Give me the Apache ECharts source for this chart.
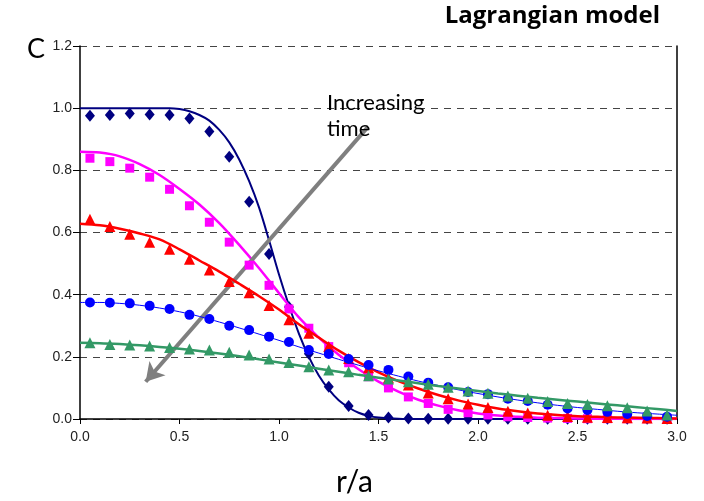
<!DOCTYPE html>
<html><head><meta charset="utf-8">
<script src="https://cdn.jsdelivr.net/npm/echarts@6/dist/echarts.min.js"></script>
<style>html,body{margin:0;padding:0;background:#fff}#c{width:704px;height:501px}</style>
</head><body><div id="c"></div>
<script>
// marker positions (r/a)
const rMarkers = [0.05,0.15,0.25,0.35,0.45,0.55,0.65,0.75,0.85,0.95,1.05,1.15,1.25,1.35,1.45,1.55,1.65,1.75,1.85,1.95,2.05,2.15,2.25,2.35,2.45,2.55,2.65,2.75,2.85,2.95];
// marker values (simulation points)
const navyPts = [0.976,0.978,0.983,0.98,0.978,0.967,0.925,0.844,0.699,0.531,0.36,0.21,0.104,0.042,0.013,0.005,0.002,0.001,0.001,0.001,0.001,0.001,0.001,0.001,0.001,0.001,0.001,0.001,0.001,0.001];
const magentaPts = [0.839,0.828,0.807,0.778,0.739,0.686,0.633,0.569,0.495,0.43,0.354,0.292,0.233,0.181,0.136,0.1,0.071,0.05,0.031,0.02,0.013,0.007,0.005,0.003,0.002,0.001,0.001,0.001,0.001,0.001];
const redPts = [0.643,0.619,0.594,0.569,0.546,0.514,0.479,0.442,0.406,0.365,0.319,0.276,0.233,0.195,0.165,0.133,0.109,0.084,0.065,0.048,0.037,0.025,0.019,0.012,0.008,0.006,0.005,0.004,0.003,0.002];
const bluePts = [0.375,0.374,0.372,0.364,0.354,0.335,0.322,0.3,0.286,0.265,0.248,0.222,0.209,0.193,0.174,0.158,0.137,0.117,0.102,0.087,0.08,0.065,0.058,0.046,0.034,0.029,0.023,0.016,0.01,0.007];
const greenPts = [0.245,0.24,0.238,0.235,0.23,0.225,0.222,0.215,0.206,0.193,0.182,0.168,0.158,0.152,0.139,0.129,0.12,0.112,0.102,0.09,0.083,0.074,0.067,0.056,0.05,0.047,0.043,0.036,0.026,0.013];

// model curves (Lagrangian model)
const rLine = [0,0.1,0.2,0.3,0.4,0.5,0.6,0.7,0.8,0.9,1.0,1.1,1.2,1.3,1.4,1.5,1.6,1.7,1.8,1.9,2.0,2.1,2.2,2.3,2.4,2.5,2.6,2.7,2.8,2.9,3.0];
const rNavyLine = [0,0.2,0.45,0.5,0.55,0.6,0.65,0.7,0.75,0.8,0.85,0.9,0.95,1.0,1.05,1.1,1.15,1.2,1.25,1.3,1.35,1.4,1.45,1.5,1.6,1.7,2.0,2.5,3.0];
const navyLine = [1.0,1.0,1.0,0.997,0.99,0.978,0.96,0.93,0.89,0.835,0.765,0.68,0.575,0.465,0.365,0.275,0.2,0.14,0.095,0.06,0.037,0.02,0.01,0.005,0.001,0,0,0,0];
const magentaLine = [0.86,0.857,0.845,0.82,0.785,0.74,0.69,0.63,0.56,0.485,0.405,0.327,0.262,0.207,0.16,0.12,0.088,0.062,0.043,0.028,0.018,0.011,0.007,0.004,0.003,0.002,0.001,0.001,0,0,0];
const redLine = [0.628,0.623,0.612,0.597,0.578,0.546,0.51,0.474,0.435,0.395,0.352,0.305,0.262,0.22,0.183,0.15,0.122,0.098,0.077,0.06,0.046,0.034,0.025,0.018,0.013,0.009,0.007,0.005,0.004,0.003,0.002];
const blueLine = [0.375,0.375,0.372,0.366,0.357,0.345,0.33,0.312,0.293,0.273,0.253,0.232,0.212,0.192,0.173,0.155,0.138,0.122,0.108,0.094,0.082,0.071,0.061,0.052,0.044,0.037,0.031,0.025,0.02,0.016,0.012];
const greenLine = [0.245,0.244,0.241,0.237,0.232,0.226,0.219,0.211,0.202,0.192,0.182,0.172,0.162,0.152,0.142,0.133,0.124,0.115,0.106,0.098,0.09,0.082,0.075,0.068,0.062,0.056,0.05,0.044,0.038,0.032,0.026];

const xTicks = [0,0.5,1,1.5,2,2.5,3];
const yTicks = [0,0.2,0.4,0.6,0.8,1.0,1.2];
const titleText = 'Lagrangian model';
const yName = 'C';
const xName = 'r/a';
const arrowText = 'Increasing\ntime';
const arrowFrom = [1.447, 0.94];
const arrowTo = [0.33, 0.12];

const zip = (xs, ys) => xs.map((x, i) => [x, ys[i]]);

const defs = [
  {name:'t1', color:'#000080', line: zip(rNavyLine, navyLine), pts: navyPts, symbol:'diamond', size:[10,12], lw:2},
  {name:'t2', color:'#FF00FF', line: zip(rLine, magentaLine), pts: magentaPts, symbol:'rect', size:9, lw:2.5},
  {name:'t3', color:'#FF0000', line: zip(rLine, redLine), pts: redPts, symbol:'triangle', size:11, lw:2.5},
  {name:'t4', color:'#0000FF', line: zip(rLine, blueLine), pts: bluePts, symbol:'circle', size:10, lw:1},
  {name:'t5', color:'#339966', line: zip(rLine, greenLine), pts: greenPts, symbol:'triangle', size:11, lw:2.5}
];

const series = [];
defs.forEach((d, i) => {
  series.push({
    type:'line', name:d.name+'-model', data:d.line, smooth:0.3, showSymbol:false,
    lineStyle:{color:d.color, width:d.lw}, itemStyle:{color:d.color}, z: 2 + i*2, silent:true
  });
  series.push({
    type:'scatter', name:d.name, data: zip(rMarkers, d.pts), symbol:d.symbol, symbolSize:d.size,
    itemStyle:{color:d.color, opacity:1}, z: 3 + i*2, silent:true
  });
});
series.push({
  type:'line', data:[], z:20,
  markLine:{
    silent:true, symbol:['none','arrow'], symbolSize:[16,18],
    lineStyle:{color:'#7f7f7f', width:4, type:'solid'},
    label:{show:false},
    data:[[{coord:arrowFrom},{coord:arrowTo}]]
  }
});

const chart = echarts.init(document.getElementById('c'), null, {renderer:'canvas'});
chart.setOption({
  animation:false,
  backgroundColor:'#fff',
  grid:{left:80, right:27, top:46, bottom:82, containLabel:false},
  xAxis:{
    type:'value', min:0, max:3, interval:0.5,
    axisLine:{show:true, onZero:false, lineStyle:{color:'#000', width:1.5}},
    axisTick:{show:true, length:5, lineStyle:{color:'#000'}},
    axisLabel:{color:'#222', fontSize:14, fontFamily:'Liberation Sans, Arial', margin:11,
      formatter: v => v.toFixed(1)},
    splitLine:{show:false}
  },
  yAxis:[{
    type:'value', min:0, max:1.2, interval:0.2,
    axisLine:{show:true, onZero:false, lineStyle:{color:'#000', width:1.5}},
    axisTick:{show:true, length:7, lineStyle:{color:'#000'}},
    axisLabel:{color:'#222', fontSize:14, fontFamily:'Liberation Sans, Arial', margin:8,
      formatter: v => v.toFixed(1)},
    splitLine:{show:true, lineStyle:{color:'#444', type:[7,6], width:1}}
  },{
    type:'value', min:0, max:1.2, interval:0.2, position:'right',
    axisLine:{show:true, onZero:false, lineStyle:{color:'#000', width:1.5}},
    axisTick:{show:false}, axisLabel:{show:false}, splitLine:{show:false}
  }],
  graphic:[
    {type:'text', right:44, top:4, style:{text:titleText, fontSize:24, fontWeight:'bold', fontFamily:'Open Sans, Lato', fill:'#000'}},
    {type:'text', left:27, top:36, style:{text:yName, fontSize:27, fontFamily:'Lato, Open Sans', fill:'#000'}},
    {type:'text', left:336, top:467, style:{text:xName, fontSize:30, fontFamily:'Lato, Open Sans', fill:'#000'}},
    {type:'text', left:327, top:90, z:30, style:{text:arrowText, fontSize:22, lineHeight:26, fontFamily:'Lato, Open Sans', fill:'#000'}}
  ],
  series: series
});
</script>
</body></html>
